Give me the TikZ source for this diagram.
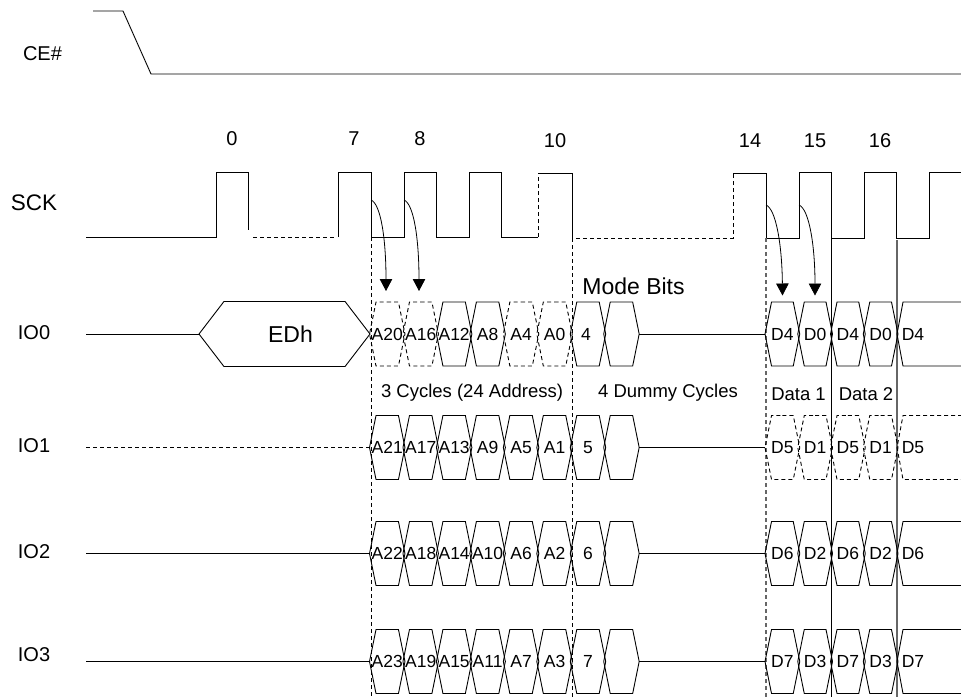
\documentclass[tikz,border=0pt]{standalone}
\usepackage{fontspec}
\setmainfont{Liberation Sans}
\usetikzlibrary{shapes.symbols, arrows.meta, positioning}

\begin{document}
\begin{tikzpicture}[
x=1pt, y=-1pt,
node distance=-2pt,
% Define block styles
hexcell/.style = {signal, signal to=east and west, signal pointer angle=157, draw=black, line width=0.9pt, inner sep=0pt, outer sep=0pt, minimum width=35.46pt, minimum height=64pt, text height=12.6pt, text depth=0pt, font=\fontsize{17.5}{20}\selectfont},
hexdash/.style = {hexcell, dash pattern=on 4pt off 3pt},
datacell/.style = {hexcell, minimum width=34.75pt},
datadash/.style = {datacell, dash pattern=on 4pt off 3pt},
celltext/.style = {font=\fontsize{17.5}{20}\selectfont},
sigtext/.style = {font=\fontsize{20}{24}\selectfont},
smalltext/.style = {font=\fontsize{18.5}{22}\selectfont},
wave/.style = {draw=black, line width=0.9pt},
wavedash/.style = {wave, dash pattern=on 4pt off 3pt},
arrow/.style = {line width=0.8pt, -{Triangle[length=12pt,width=12.5pt]}}
]
\useasboundingbox (0,0) rectangle (961,697);

% Signal names
\node (cename) [sigtext] at (42.5,54) {CE\#};
\node (sckname) [sigtext, font=\fontsize{22.5}{24}\selectfont] at (34,203) {SCK};
\node (ioname0) [sigtext] at (34,333) {IO0};
\node (ioname1) [sigtext] at (34,446) {IO1};
\node (ioname2) [sigtext] at (34,552) {IO2};
\node (ioname3) [sigtext] at (34,655) {IO3};

% Clock numbers
\node (num0) [sigtext] at (232,139) {0};
\node (num7) [sigtext] at (354,139) {7};
\node (num8) [sigtext] at (420,139) {8};
\node (num10) [sigtext] at (555,141) {10};
\node (num14) [sigtext] at (750,141) {14};
\node (num15) [sigtext] at (815,141) {15};
\node (num16) [sigtext] at (880,141) {16};

% CE# and SCK waveforms
\draw [wave] (93,11) -- (123,11) -- (151,74) -- (961,74);
\draw [wave] (86,237) -- (216,237) -- (216,172) -- (248,172) -- (248,230);
\draw [wavedash] (253,237) -- (335,237);
\draw [wave] (338,237) -- (338,172) -- (371,172) -- (371,237) -- (404,237) -- (404,172) -- (436,172) -- (436,237) -- (469,237) -- (469,172) -- (501,172) -- (501,237) -- (538,237);
\draw [wavedash] (538,237) -- (538,173);
\draw [wave] (538,173) -- (572,173) -- (572,238);
\draw [wavedash] (576,238) -- (733,238) -- (733,173);
\draw [wave] (733,173) -- (766,173) -- (766,238) -- (799,238) -- (799,172) -- (831,172) -- (831,238) -- (864,238) -- (864,172) -- (896,172) -- (896,238) -- (929,238) -- (929,172) -- (961,172);

% Cycle boundaries
\draw [wavedash] (371,237) -- (371,697);
\draw [wavedash] (572,238) -- (572,697);
\draw [wavedash, line width=1.2pt, draw=black!60] (766,238) -- (766,697);
\draw [wave] (831,238) -- (831,697);
\draw [wave, line width=1.4pt, draw=black!60] (897,240) -- (897,697);

% IO0 cells
\node (edh) [hexcell, signal pointer angle=105, minimum width=171pt, minimum height=65pt, font=\fontsize{23}{26}\selectfont, text height=16.5pt, anchor=east] at (370,334) {\clap{\hspace{12pt}EDh}};
\node (a20) [hexdash, anchor=west] at (369.5,334) {\clap{A20}};
\node (a16) [hexdash, right=of a20] {\clap{A16}};
\node (a12) [hexcell, right=of a16] {\clap{A12}};
\node (a8) [hexcell, right=of a12] {\clap{A8}};
\node (a4) [hexdash, right=of a8] {\clap{A4}};
\node (a0) [hexdash, right=of a4] {\clap{A0}};
\node (mode4) [hexcell, right=of a0] {\clap{4\hspace{4pt}}};
\node (blank0) [hexcell, right=of mode4] {};
\node (d4) [datacell, anchor=west] at (765,334) {\clap{D4}};
\node (d0) [datacell, right=of d4] {\clap{D0}};
\node (d4b) [datacell, right=of d0] {\clap{D4}};
\node (d0b) [datacell, right=of d4b] {\clap{D0}};
\coordinate (open0) at (897,334);
\node (d4c) [celltext] at (913,334) {D4};

% IO1 cells
\node (a21) [hexcell, anchor=west] at (369.5,447.5) {\clap{A21}};
\node (a17) [hexcell, right=of a21] {\clap{A17}};
\node (a13) [hexcell, right=of a17] {\clap{A13}};
\node (a9) [hexcell, right=of a13] {\clap{A9}};
\node (a5) [hexcell, right=of a9] {\clap{A5}};
\node (a1) [hexcell, right=of a5] {\clap{A1}};
\node (mode5) [hexcell, right=of a1] {\clap{5}};
\node (blank1) [hexcell, right=of mode5] {};
\node (d5) [datadash, anchor=west] at (765,447.5) {\clap{D5}};
\node (d1) [datadash, right=of d5] {\clap{D1}};
\node (d5b) [datadash, right=of d1] {\clap{D5}};
\node (d1b) [datadash, right=of d5b] {\clap{D1}};
\coordinate (open1) at (897,447.5);
\node (d5c) [celltext] at (913,447.5) {D5};

% IO2 cells
\node (a22) [hexcell, anchor=west] at (369.5,553.5) {\clap{A22}};
\node (a18) [hexcell, right=of a22] {\clap{A18}};
\node (a14) [hexcell, right=of a18] {\clap{A14}};
\node (a10) [hexcell, right=of a14] {\clap{A10}};
\node (a6) [hexcell, right=of a10] {\clap{A6}};
\node (a2) [hexcell, right=of a6] {\clap{A2}};
\node (mode6) [hexcell, right=of a2] {\clap{6}};
\node (blank2) [hexcell, right=of mode6] {};
\node (d6) [datacell, anchor=west] at (765,553.5) {\clap{D6}};
\node (d2) [datacell, right=of d6] {\clap{D2}};
\node (d6b) [datacell, right=of d2] {\clap{D6}};
\node (d2b) [datacell, right=of d6b] {\clap{D2}};
\coordinate (open2) at (897,553.5);
\node (d6c) [celltext] at (913,553.5) {D6};

% IO3 cells
\node (a23) [hexcell, anchor=west] at (369.5,661.5) {\clap{A23}};
\node (a19) [hexcell, right=of a23] {\clap{A19}};
\node (a15) [hexcell, right=of a19] {\clap{A15}};
\node (a11) [hexcell, right=of a15] {\clap{A11}};
\node (a7) [hexcell, right=of a11] {\clap{A7}};
\node (a3) [hexcell, right=of a7] {\clap{A3}};
\node (mode7) [hexcell, right=of a3] {\clap{7}};
\node (blank3) [hexcell, right=of mode7] {};
\node (d7) [datacell, anchor=west] at (765,661.5) {\clap{D7}};
\node (d3) [datacell, right=of d7] {\clap{D3}};
\node (d7b) [datacell, right=of d3] {\clap{D7}};
\node (d3b) [datacell, right=of d7b] {\clap{D3}};
\coordinate (open3) at (897,661.5);
\node (d7c) [celltext] at (913,661.5) {D7};

% Captions
\node (modebits) [font=\fontsize{23}{26}\selectfont] at (633.5,286) {Mode Bits};
\node (addrcap) [smalltext] at (472,393) {3 Cycles (24 Address)};
\node (dummycap) [smalltext] at (668,393) {4 Dummy Cycles};
\node (data1cap) [smalltext] at (798.5,394) {Data 1};
\node (data2cap) [smalltext] at (866,394) {Data 2};

% Line ends
\coordinate (io0in) at (86,334);
\coordinate (io1in) at (86,447.5);
\coordinate (io2in) at (86,553.5);
\coordinate (io3in) at (86,661.5);

% Connectors
\draw [wave] (io0in) -- (edh.west);
\draw [wavedash] (io1in) -- (a21.west);
\draw [wave] (io2in) -- (a22.west);
\draw [wave] (io3in) -- (a23.west);
\draw [wave] (blank0.east) -- (d4.west);
\draw [wave] (blank1.east) -- (d5.west);
\draw [wave] (blank2.east) -- (d6.west);
\draw [wave] (blank3.east) -- (d7.west);

% Open ended cells
\draw [wave] (962,302) -- (903,302) -- (open0) -- (903,366) -- (962,366);
\draw [wavedash] (962,415.5) -- (903,415.5) -- (open1) -- (903,479.5) -- (962,479.5);
\draw [wave] (962,521.5) -- (903,521.5) -- (open2) -- (903,585.5) -- (962,585.5);
\draw [wave] (962,629.5) -- (903,629.5) -- (open3) -- (903,693.5) -- (962,693.5);

% Sampling arrows
\coordinate (edge7) at (371,200);
\coordinate (edge8) at (404,200);
\coordinate (edge14) at (766,205);
\coordinate (edge15) at (799,205);
\coordinate (tip0) at (386,291);
\coordinate (tip1) at (419,291);
\coordinate (tip2) at (782.5,295.5);
\coordinate (tip3) at (815,295.5);
\draw [arrow] (edge7) .. controls (381,204) and (386,240) .. (tip0);
\draw [arrow] (edge8) .. controls (414,204) and (419,240) .. (tip1);
\draw [arrow] (edge14) .. controls (776,209) and (782,245) .. (tip2);
\draw [arrow] (edge15) .. controls (809,209) and (815,245) .. (tip3);
\end{tikzpicture}
\end{document}
